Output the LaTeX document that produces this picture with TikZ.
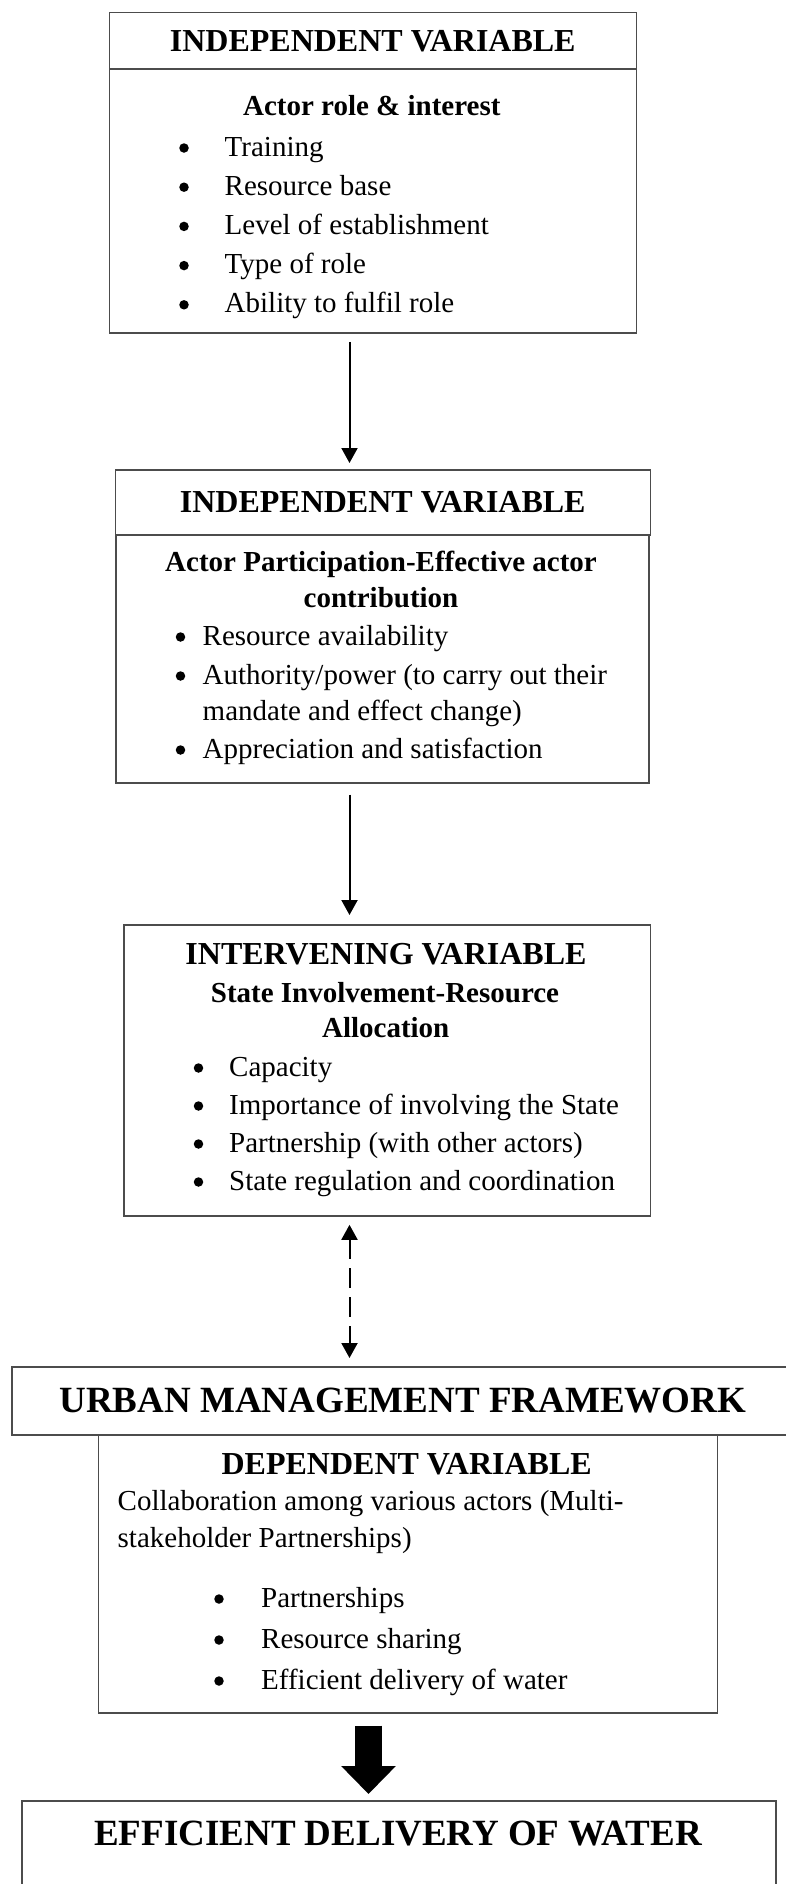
\documentclass[tikz,border=0pt]{standalone}
\usepackage{fontspec}
\setmainfont{Liberation Serif}
\usetikzlibrary{arrows.meta}
\tikzset{varBox/.style={draw=black!70, line width=1.5pt, inner sep=0pt, anchor=north west, align=center}}
\tikzset{titleText/.style={font=\fontsize{32}{38}\selectfont\bfseries}}
\tikzset{bigTitle/.style={font=\fontsize{37}{44}\selectfont\bfseries}}
\tikzset{subHead/.style={inner sep=0pt, anchor=base, font=\fontsize{29}{35}\selectfont\bfseries}}
\tikzset{itemText/.style={inner sep=0pt, anchor=base west, font=\fontsize{29}{35}\selectfont}}
\tikzset{bulletDot/.style={circle, fill=black, inner sep=0pt, minimum size=9.5pt}}
\tikzset{flow/.style={line width=2pt, -{Triangle[width=16pt,length=15pt]}}}
\tikzset{twoWay/.style={line width=2pt, dash pattern=on 20pt off 9pt, {Triangle[width=16pt,length=15pt]}-{Triangle[width=16pt,length=15pt]}}}

\begin{document}
\begin{tikzpicture}[x=1pt, y=-1pt]

\useasboundingbox (0,0) rectangle (785,1884);
\coordinate (spine) at (349.5,0);
\coordinate (bigSpine) at (368.5,0);

% Actor role & interest
\node[varBox, titleText, minimum width=527pt, minimum height=56.6pt] (roleHd) at (108.5,11.7) {INDEPENDENT VARIABLE};
\node[varBox, minimum width=527pt, minimum height=264pt] (role) at (108.5,68.3) {};
\node[subHead] (roleSub) at (371.8,115) {Actor role \& interest};
\foreach \txt [count=\i] in {Training, Resource base, Level of establishment, Type of role, Ability to fulfil role}{
  \node[bulletDot] (roleB\i) at (184,{148+39.2*(\i-1)}) {};
  \node[itemText] (roleT\i) at (224.5,{156+39.2*(\i-1)}) {\txt};
}

% Actor participation
\node[varBox, titleText, minimum width=535pt, minimum height=64.7pt] (partHd) at (114.5,469.3) {INDEPENDENT VARIABLE};
\node[varBox, minimum width=533pt, minimum height=248pt] (part) at (115,534) {};
\node[subHead] (partSub1) at (381,571) {Actor Participation-Effective actor};
\node[subHead] (partSub2) at (381,607) {contribution};
\node[bulletDot] (partB1) at (180.5,637) {};
\node[itemText] (partT1) at (202.5,645) {Resource availability};
\node[bulletDot] (partB2) at (180.5,676) {};
\node[itemText] (partT2) at (202.5,684) {Authority/power (to carry out their};
\node[itemText] (partT2b) at (202.5,720) {mandate and effect change)};
\node[bulletDot] (partB3) at (180.5,750) {};
\node[itemText] (partT3) at (202.5,758) {Appreciation and satisfaction};

% State involvement
\node[varBox, minimum width=526.5pt, minimum height=291.3pt] (state) at (123,924) {};
\node[subHead, titleText] (stateHd) at (386,964) {INTERVENING VARIABLE};
\node[subHead] (stateSub1) at (385,1002) {State Involvement-Resource};
\node[subHead] (stateSub2) at (385.7,1037) {Allocation};
\foreach \txt [count=\i] in {Capacity, Importance of involving the State, Partnership (with other actors), State regulation and coordination}{
  \node[bulletDot] (stateB\i) at (198.5,{1068+38*(\i-1)}) {};
  \node[itemText] (stateT\i) at (229,{1076+38*(\i-1)}) {\txt};
}

% Urban management framework
\node[varBox, bigTitle, minimum width=782pt, minimum height=68pt] (urban) at (11,1366) {URBAN MANAGEMENT FRAMEWORK};
\node[varBox, minimum width=619pt, minimum height=278pt] (dep) at (97.5,1434) {};
\node[subHead, titleText] (depHd) at (406.7,1474) {DEPENDENT VARIABLE};
\node[itemText] (depTxt1) at (117.5,1510) {Collaboration among various actors (Multi-};
\node[itemText] (depTxt2) at (117.5,1547) {stakeholder Partnerships)};
\foreach \txt [count=\i] in {Partnerships, Resource sharing, Efficient delivery of water}{
  \node[bulletDot] (depB\i) at (219,{1599+41*(\i-1)}) {};
  \node[itemText] (depT\i) at (261,{1607+41*(\i-1)}) {\txt};
}

% Outcome
\node[varBox, minimum width=754pt, minimum height=100pt] (water) at (21,1800) {};
\node[subHead, bigTitle] (waterHd) at (398,1845) {EFFICIENT DELIVERY OF WATER};

% Arrows
\draw[flow, shorten <=8pt, shorten >=6.3pt] (role.south -| spine) -- (partHd.north -| spine);
\draw[flow, shorten <=11pt, shorten >=9pt] (part.south -| spine) -- (state.north -| spine);
\draw[twoWay, shorten <=8pt, shorten >=8pt] (state.south -| spine) -- (urban.north -| spine);
\draw[line width=27pt, -{Triangle[width=53pt,length=28pt]}, shorten <=12pt, shorten >=6pt] (dep.south -| bigSpine) -- (water.north -| bigSpine);

\end{tikzpicture}
\end{document}
